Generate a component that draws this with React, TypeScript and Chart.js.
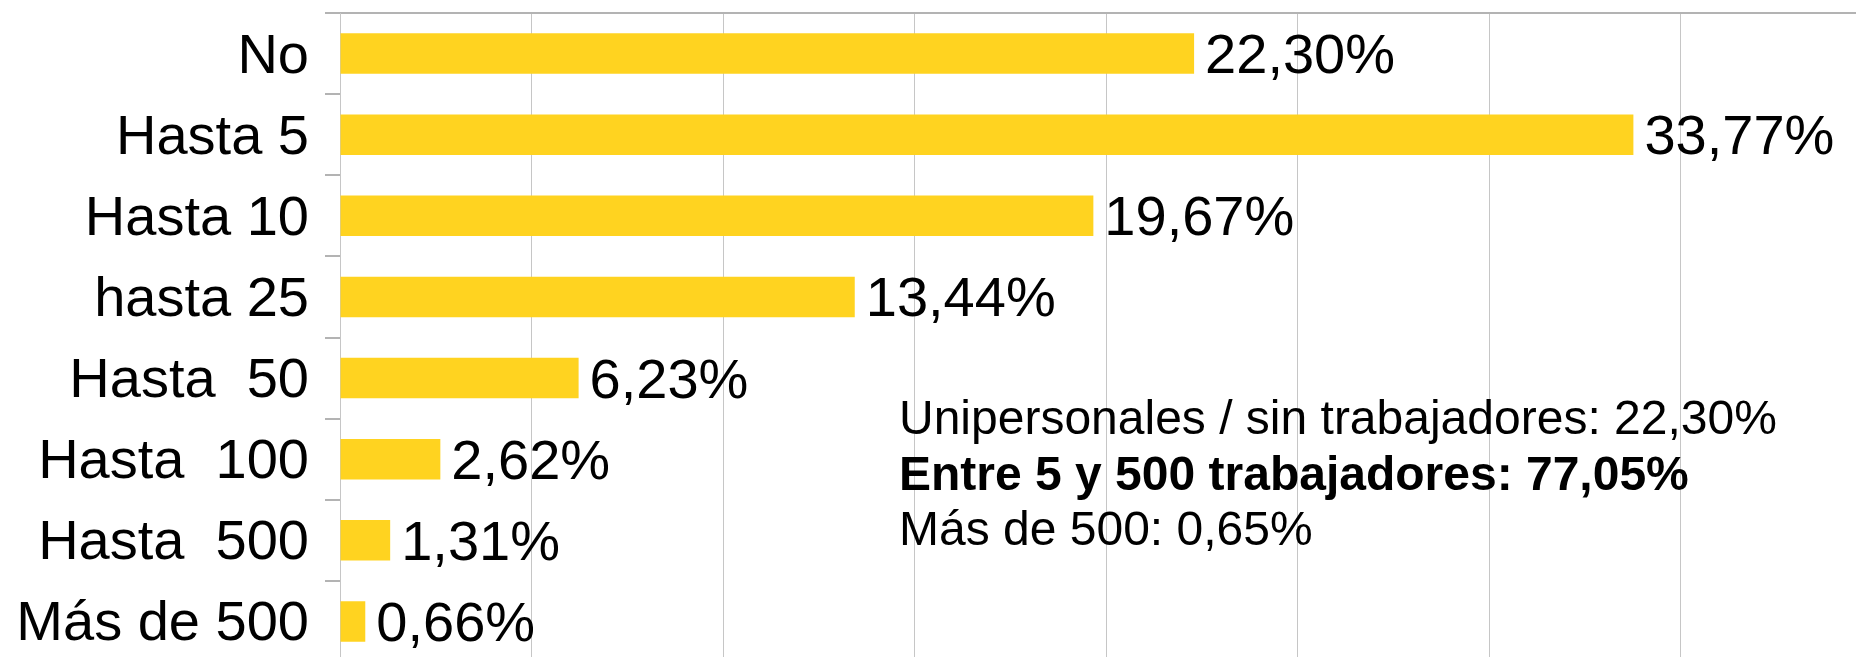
import React, { useEffect, useRef } from "react";
import { Chart, registerables } from "chart.js";

Chart.register(...registerables);

const CATEGORIES = ["No", "Hasta 5", "Hasta 10", "hasta 25", "Hasta  50", "Hasta  100", "Hasta  500", "Más de 500"];
const VALUES = [22.3, 33.77, 19.67, 13.44, 6.23, 2.62, 1.31, 0.66];
const SUMMARY_LINES = [
  "Unipersonales / sin trabajadores: 22,30%",
  "Entre 5 y 500 trabajadores: 77,05%",
  "Más de 500: 0,65%",
];
const SUMMARY_BOLD = [false, true, false];
const X_MIN = 0;
const X_MAX = 40;
const X_STEP = 5;

const FONT = "'Liberation Sans', Arial, sans-serif";
const BAR_COLOR = "#ffd320";
const GRID_COLOR = "#c6c6c6";
const TICK_COLOR = "#b3b3b3";

const fmt = (v: number) => v.toFixed(2).replace(".", ",") + "%";

const valueLabels = {
  id: "valueLabels",
  afterDatasetsDraw(chart: any) {
    const ctx = chart.ctx;
    const meta = chart.getDatasetMeta(0);
    ctx.save();
    ctx.font = `56px ${FONT}`;
    ctx.fillStyle = "#000";
    ctx.textAlign = "left";
    ctx.textBaseline = "middle";
    meta.data.forEach((bar: any, i: number) => {
      ctx.fillText(fmt(VALUES[i]), bar.x + 11, bar.y + 4);
    });
    ctx.restore();
  },
};

const summaryText = {
  id: "summaryText",
  afterDraw(chart: any) {
    const ctx = chart.ctx;
    ctx.save();
    ctx.fillStyle = "#000";
    ctx.textAlign = "left";
    ctx.textBaseline = "middle";
    const x = 899;
    const y0 = 421;
    const lh = 55.5;
    SUMMARY_LINES.forEach((line, i) => {
      ctx.font = `${SUMMARY_BOLD[i] ? "bold " : ""}48px ${FONT}`;
      ctx.fillText(line, x, y0 + i * lh);
    });
    ctx.restore();
  },
};

export default function App() {
  const ref = useRef<HTMLCanvasElement | null>(null);

  useEffect(() => {
    if (!ref.current) return;
    const chart = new Chart(ref.current, {
      type: "bar",
      data: {
        labels: CATEGORIES,
        datasets: [
          {
            data: VALUES,
            backgroundColor: BAR_COLOR,
            borderWidth: 0,
            categoryPercentage: 1,
            barPercentage: 0.5,
          },
        ],
      },
      options: {
        indexAxis: "y",
        responsive: false,
        animation: false,
        layout: { padding: 0 },
        plugins: {
          legend: { display: false },
          tooltip: { enabled: false },
          title: { display: false },
        },
        scales: {
          x: {
            position: "top",
            min: X_MIN,
            max: X_MAX,
            ticks: { display: false, stepSize: X_STEP },
            grid: { color: GRID_COLOR, lineWidth: 1, drawTicks: false },
            border: { display: true, color: TICK_COLOR, width: 2 },
            afterFit: (scale: any) => {
              scale.height = 13;
              scale.paddingLeft = 0;
              scale.paddingRight = 0;
            },
          },
          y: {
            ticks: {
              color: "#000",
              font: { family: FONT, size: 56 },
              padding: 16,
              labelOffset: 3.5,
            },
            grid: {
              drawOnChartArea: false,
              offset: true,
              tickLength: 15,
              color: TICK_COLOR,
              lineWidth: 2,
            },
            border: { display: true, color: GRID_COLOR, width: 1 },
            afterFit: (scale: any) => {
              scale.width = 340;
              scale.paddingTop = 0;
              scale.paddingBottom = 0;
            },
          },
        },
      },
      plugins: [valueLabels, summaryText],
    });
    return () => chart.destroy();
  }, []);

  return (
    <div
      style={{
        position: "fixed",
        left: 0,
        top: 0,
        width: 1856,
        height: 657,
        overflow: "hidden",
        background: "#fff",
      }}
    >
      <canvas ref={ref} width={1872} height={662} style={{ display: "block" }} />
    </div>
  );
}
